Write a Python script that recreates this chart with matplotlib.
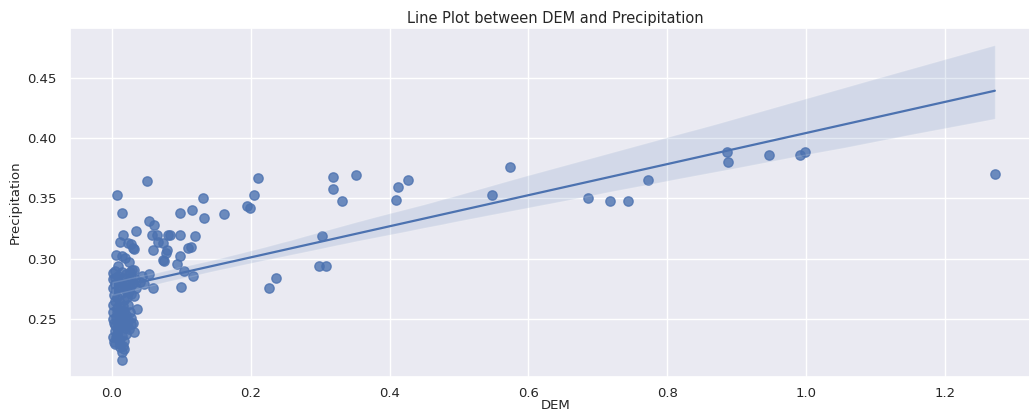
import numpy as np
import pandas as pd
import seaborn as sns
from matplotlib import pyplot as plt

# dense group near DEM = 0
dem_low = [0.002, 0.004, 0.006, 0.003, 0.008, 0.010, 0.012, 0.014, 0.016, 0.018,
           0.020, 0.022, 0.024, 0.026, 0.028, 0.030, 0.005, 0.011, 0.017, 0.023,
           0.002, 0.009, 0.015, 0.021, 0.027, 0.033, 0.035, 0.032, 0.001, 0.016,
           0.036, 0.007, 0.013, 0.019, 0.025, 0.004, 0.001,
           0.002, 0.006, 0.010, 0.004, 0.008, 0.012, 0.015, 0.018, 0.020, 0.023,
           0.026, 0.028, 0.013, 0.017, 0.022, 0.001, 0.030, 0.007,
           0.004, 0.009, 0.024, 0.003, 0.019, 0.011, 0.027,
           0.032, 0.001, 0.006, 0.003, 0.010, 0.012, 0.016, 0.014, 0.018, 0.014, 0.008,
           0.015, 0.020, 0.011, 0.017, 0.005]
prec_low = [0.283, 0.279, 0.275, 0.270, 0.268, 0.281, 0.277, 0.272, 0.284, 0.279,
            0.274, 0.268, 0.282, 0.277, 0.271, 0.280, 0.265, 0.263, 0.266, 0.262,
            0.288, 0.286, 0.289, 0.287, 0.285, 0.283, 0.276, 0.269, 0.262, 0.261,
            0.258, 0.259, 0.257, 0.276, 0.273, 0.284, 0.276,
            0.256, 0.252, 0.248, 0.245, 0.243, 0.255, 0.250, 0.246, 0.253, 0.249,
            0.256, 0.251, 0.244, 0.257, 0.245, 0.250, 0.247, 0.256,
            0.240, 0.241, 0.242, 0.247, 0.243, 0.252, 0.246,
            0.239, 0.235, 0.235, 0.231, 0.233, 0.229, 0.228, 0.223, 0.232, 0.216, 0.237,
            0.236, 0.238, 0.227, 0.225, 0.229]

# scattered points with small DEM
dem_mid = [0.007, 0.050, 0.014, 0.016, 0.035, 0.012, 0.023, 0.027, 0.030, 0.032,
           0.006, 0.014, 0.019, 0.024, 0.009, 0.004, 0.029, 0.032, 0.026, 0.043,
           0.053, 0.059, 0.053, 0.060, 0.058, 0.065, 0.081, 0.083, 0.098, 0.120,
           0.066, 0.073, 0.059, 0.079, 0.078, 0.109, 0.114, 0.098, 0.094, 0.073,
           0.075, 0.104, 0.117, 0.100, 0.098, 0.116, 0.131, 0.132, 0.161, 0.194,
           0.199, 0.204, 0.210, 0.040, 0.046]
prec_mid = [0.353, 0.364, 0.338, 0.320, 0.323, 0.314, 0.313, 0.312, 0.309, 0.308,
            0.303, 0.302, 0.301, 0.297, 0.294, 0.290, 0.291, 0.291, 0.289, 0.286,
            0.287, 0.276, 0.331, 0.328, 0.320, 0.320, 0.320, 0.320, 0.320, 0.319,
            0.314, 0.313, 0.307, 0.307, 0.305, 0.309, 0.310, 0.302, 0.296, 0.299,
            0.298, 0.290, 0.286, 0.277, 0.338, 0.340, 0.350, 0.334, 0.337, 0.344,
            0.342, 0.353, 0.367, 0.281, 0.279]

# larger DEM values
dem_high = [0.227, 0.236, 0.298, 0.309, 0.302, 0.318, 0.319, 0.332, 0.351, 0.410,
            0.412, 0.427, 0.548, 0.573, 0.686, 0.717, 0.744, 0.773, 0.886, 0.888,
            0.947, 0.991, 0.999, 1.272]
prec_high = [0.276, 0.284, 0.294, 0.294, 0.319, 0.358, 0.368, 0.348, 0.369, 0.349,
             0.359, 0.365, 0.353, 0.376, 0.350, 0.348, 0.348, 0.365, 0.388, 0.380,
             0.386, 0.386, 0.388, 0.370]

df = pd.DataFrame({
    "DEM": dem_low + dem_mid + dem_high,
    "Precipitation": prec_low + prec_mid + prec_high,
})

sns.set_theme(style="darkgrid")

fig, ax = plt.subplots(figsize=(10.29, 4.13), dpi=100)
fig.subplots_adjust(left=0.068, right=1.012, top=0.932, bottom=0.087)

sns.regplot(data=df, x="DEM", y="Precipitation", ax=ax, seed=7,
            scatter_kws={"s": 45}, line_kws={"linewidth": 1.6})

ax.set_xlim(-0.0604, 1.339)
ax.set_ylim(0.202, 0.491)
ax.set_xticks([0.0, 0.2, 0.4, 0.6, 0.8, 1.0, 1.2])
ax.set_yticks([0.25, 0.30, 0.35, 0.40, 0.45])
ax.tick_params(labelsize=9.5)
ax.tick_params(axis="x", pad=1.5)
ax.set_xlabel("DEM", fontsize=9.5, labelpad=-1)
ax.set_ylabel("Precipitation", fontsize=9.5, labelpad=4)
ax.set_title("Line Plot between DEM and Precipitation", fontsize=10.5, pad=4)

fig.savefig("out.png", dpi=100)
